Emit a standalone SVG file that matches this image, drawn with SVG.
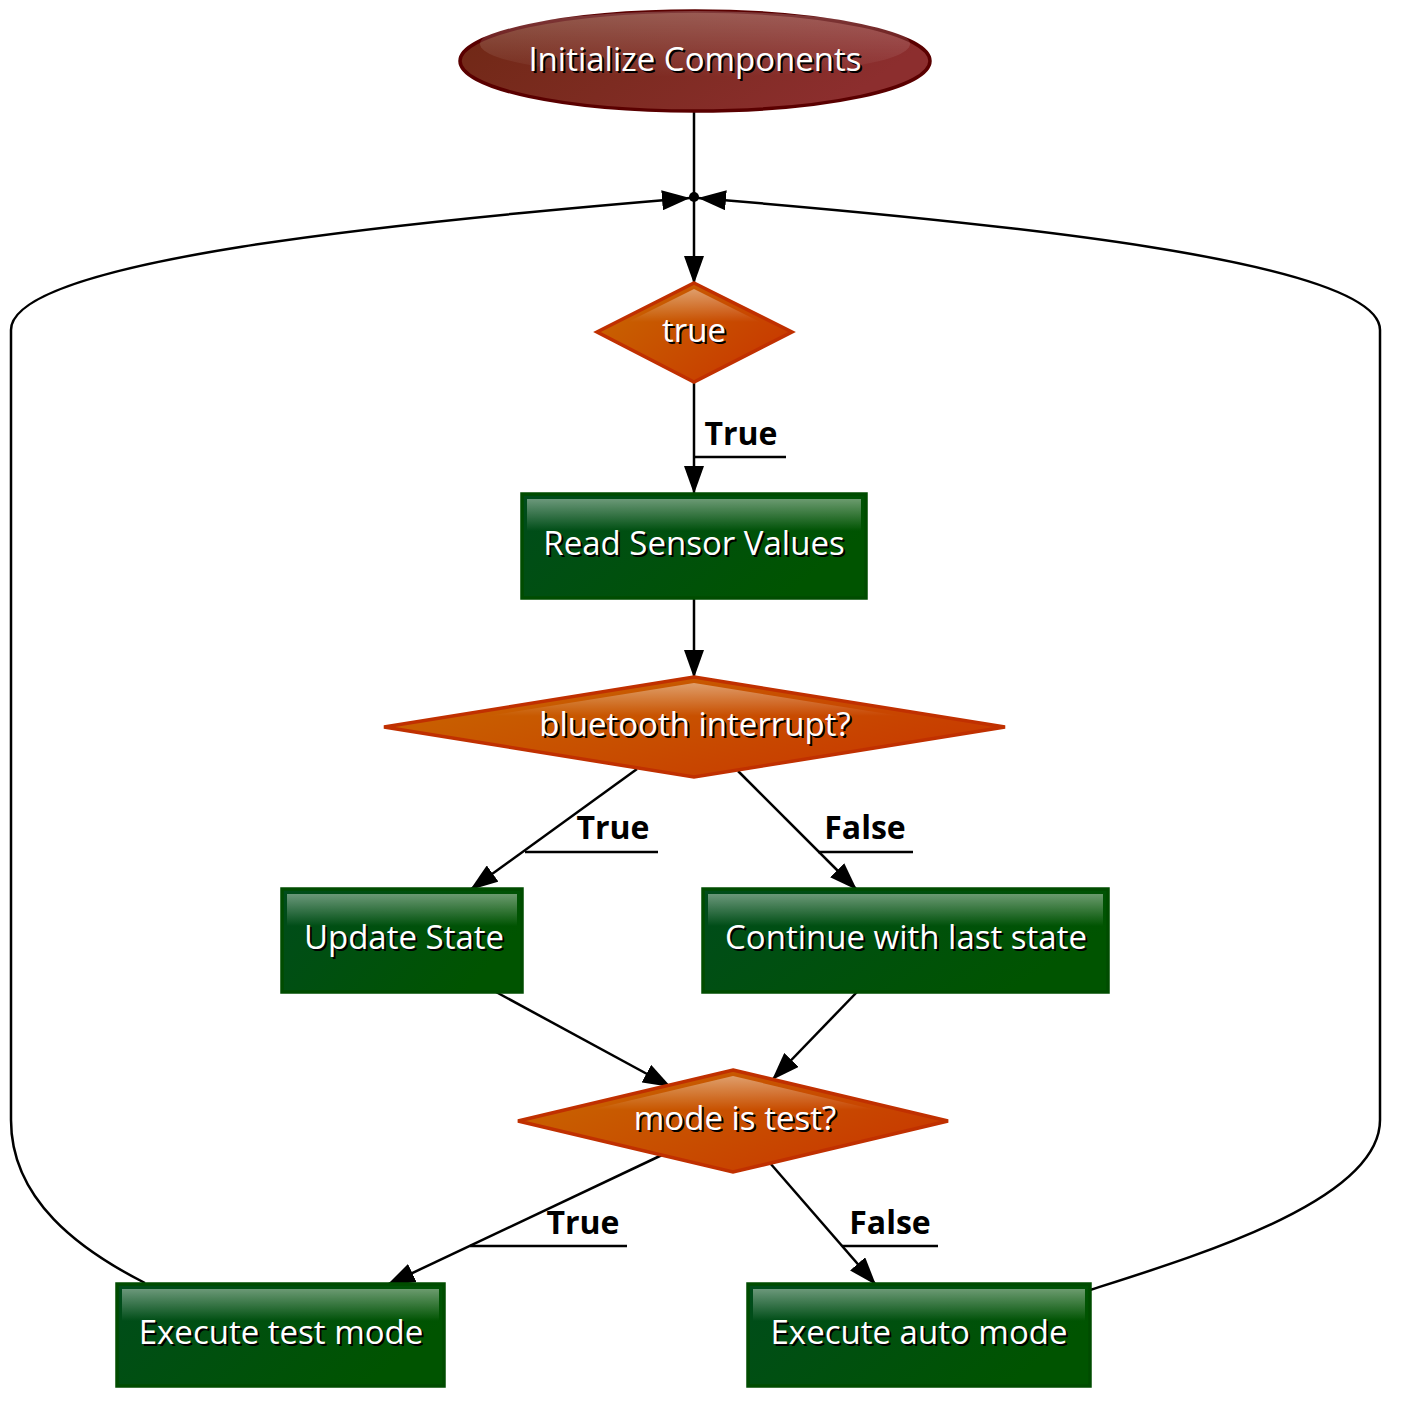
<svg xmlns="http://www.w3.org/2000/svg" width="1406" height="1411" viewBox="0 0 1406 1411">
<defs>
  <linearGradient id="gEll" x1="0" y1="0" x2="1" y2="0.3">
    <stop offset="0" stop-color="#6e2814"/>
    <stop offset="1" stop-color="#8c2e2e"/>
  </linearGradient>
  <linearGradient id="gDia" x1="0" y1="0" x2="1" y2="0.6">
    <stop offset="0" stop-color="#c86a00"/>
    <stop offset="1" stop-color="#c83a00"/>
  </linearGradient>
  <linearGradient id="gBox" x1="0" y1="0" x2="1" y2="0.4">
    <stop offset="0" stop-color="#004c1c"/>
    <stop offset="1" stop-color="#005400"/>
  </linearGradient>
  <linearGradient id="gGloss" x1="0" y1="0" x2="0" y2="1">
    <stop offset="0" stop-color="#ffffff" stop-opacity="0.42"/>
    <stop offset="1" stop-color="#ffffff" stop-opacity="0"/>
  </linearGradient>
  <marker id="arr" viewBox="0 0 28 20" refX="28" refY="10" markerWidth="28" markerHeight="20" markerUnits="userSpaceOnUse" orient="auto">
    <path d="M0,0 L28,10 L0,20 z" fill="#000"/>
  </marker>
  <style>
    .txt { font-family: "Open Sans", "Noto Sans", sans-serif; font-size: 33px; text-anchor: middle; }
    .w { fill: #ffffff; }
    .sh { fill: #000000; }
    .lbl { font-family: "Open Sans", "Noto Sans", sans-serif; font-size: 32px; font-weight: bold; fill: #000; text-anchor: middle; }
    .edge { fill: none; stroke: #000; stroke-width: 2.5; }
    .ul { stroke: #000; stroke-width: 2.5; }
    .box { fill: url(#gBox); stroke: #004c00; stroke-width: 3.5; }
    .dia { fill: url(#gDia); stroke: #c03000; stroke-width: 3.5; }
  </style>
</defs>
<rect width="1406" height="1411" fill="#ffffff"/>

<g id="connectors">
  <line class="edge" x1="694" y1="112" x2="694" y2="197"/>
  <circle cx="694" cy="197" r="5" fill="#000"/>
  <line class="edge" x1="694" y1="197" x2="694" y2="284" marker-end="url(#arr)"/>
  <line class="edge" x1="694" y1="382" x2="694" y2="494" marker-end="url(#arr)"/>
  <line class="edge" x1="694" y1="598" x2="694" y2="678" marker-end="url(#arr)"/>
  <line class="edge" x1="637" y1="769" x2="470" y2="890" marker-end="url(#arr)"/>
  <line class="edge" x1="738" y1="771" x2="857" y2="890" marker-end="url(#arr)"/>
  <line class="edge" x1="496" y1="992" x2="671" y2="1087" marker-end="url(#arr)"/>
  <line class="edge" x1="857" y1="992" x2="772" y2="1080" marker-end="url(#arr)"/>
  <line class="edge" x1="662" y1="1155" x2="387" y2="1285" marker-end="url(#arr)"/>
  <line class="edge" x1="770" y1="1163" x2="876" y2="1285" marker-end="url(#arr)"/>
  <path class="edge" d="M145,1283 C80,1250 11,1200 11,1120 L11,330 C11,260 400,222 690,198" marker-end="url(#arr)"/>
  <path class="edge" d="M1090,1290 C1200,1255 1380,1200 1380,1120 L1380,330 C1380,260 990,222 698,198" marker-end="url(#arr)"/>
  <text class="lbl" x="741" y="445">True</text>
  <line class="ul" x1="695" y1="457" x2="786" y2="457"/>
  <text class="lbl" x="613" y="839">True</text>
  <line class="ul" x1="525" y1="852" x2="658" y2="852"/>
  <text class="lbl" x="865" y="839">False</text>
  <line class="ul" x1="818" y1="852" x2="913" y2="852"/>
  <text class="lbl" x="583" y="1234">True</text>
  <line class="ul" x1="470" y1="1246" x2="627" y2="1246"/>
  <text class="lbl" x="890" y="1234">False</text>
  <line class="ul" x1="842" y1="1246" x2="938" y2="1246"/>
</g>

<g id="n_init">
  <ellipse cx="695" cy="61" rx="235" ry="50" fill="url(#gEll)" stroke="#5a0000" stroke-width="3.5"/>
  <ellipse cx="695" cy="44" rx="215" ry="33" fill="url(#gGloss)" opacity="0.55"/>
  <text class="txt sh" x="697" y="73">Initialize Components</text>
  <text class="txt w" x="695" y="71">Initialize Components</text>
</g>

<g id="n_true">
  <polygon class="dia" points="694,283 792,332 694,382 597,332"/>
  <polygon points="694,289 760,322 628,322" fill="url(#gGloss)"/>
  <text class="txt sh" x="696" y="344">true</text>
  <text class="txt w" x="694" y="342">true</text>
</g>

<g id="n_read">
  <rect class="box" x="522" y="494" width="344" height="104"/>
  <rect x="527" y="499" width="334" height="32" fill="url(#gGloss)"/>
  <text class="txt sh" x="696" y="557">Read Sensor Values</text>
  <text class="txt w" x="694" y="555">Read Sensor Values</text>
</g>

<g id="n_bt">
  <polygon class="dia" points="694,677 1005,727 694,777 384,727"/>
  <polygon points="694,683 900,716 488,716" fill="url(#gGloss)"/>
  <text class="txt sh" x="697" y="738">bluetooth interrupt?</text>
  <text class="txt w" x="695" y="736">bluetooth interrupt?</text>
</g>

<g id="n_update">
  <rect class="box" x="282" y="889" width="240" height="103"/>
  <rect x="287" y="894" width="230" height="32" fill="url(#gGloss)"/>
  <text class="txt sh" x="406" y="951">Update State</text>
  <text class="txt w" x="404" y="949">Update State</text>
</g>

<g id="n_continue">
  <rect class="box" x="703" y="889" width="405" height="103"/>
  <rect x="708" y="894" width="395" height="32" fill="url(#gGloss)"/>
  <text class="txt sh" x="908" y="951">Continue with last state</text>
  <text class="txt w" x="906" y="949">Continue with last state</text>
</g>

<g id="n_mode">
  <polygon class="dia" points="733,1070 948,1121 733,1172 518,1121"/>
  <polygon points="733,1076 876,1110 590,1110" fill="url(#gGloss)"/>
  <text class="txt sh" x="737" y="1132">mode is test?</text>
  <text class="txt w" x="735" y="1130">mode is test?</text>
</g>

<g id="n_test">
  <rect class="box" x="117" y="1284" width="327" height="102"/>
  <rect x="122" y="1289" width="317" height="32" fill="url(#gGloss)"/>
  <text class="txt sh" x="283" y="1346">Execute test mode</text>
  <text class="txt w" x="281" y="1344">Execute test mode</text>
</g>

<g id="n_auto">
  <rect class="box" x="748" y="1284" width="342" height="102"/>
  <rect x="753" y="1289" width="332" height="32" fill="url(#gGloss)"/>
  <text class="txt sh" x="921" y="1346">Execute auto mode</text>
  <text class="txt w" x="919" y="1344">Execute auto mode</text>
</g>
</svg>
